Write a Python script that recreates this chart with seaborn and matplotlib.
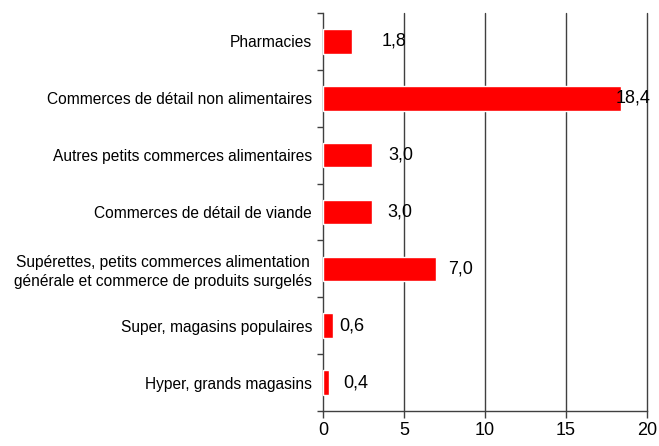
import matplotlib
matplotlib.use("Agg")
import matplotlib.pyplot as plt
import seaborn as sns
import pandas as pd
import numpy as np

categories = [
    "Pharmacies",
    "Commerces de détail non alimentaires",
    "Autres petits commerces alimentaires",
    "Commerces de détail de viande",
    "Supérettes, petits commerces alimentation\ngénérale et commerce de produits surgelés",
    "Super, magasins populaires",
    "Hyper, grands magasins",
]
values = [1.8, 18.4, 3.0, 3.0, 7.0, 0.6, 0.4]
value_labels = ["1,8", "18,4", "3,0", "3,0", "7,0", "0,6", "0,4"]
x_ticks = [0, 5, 10, 15, 20]

# label offsets from bar end, in pixels (style only)
label_offsets_px = [29, -5, 17, 16, 12, 7, 14]

sns.set_style("white")
plt.rcParams['font.family'] = ['Liberation Sans', 'DejaVu Sans']

df = pd.DataFrame({"cat": categories, "val": values})

fig = plt.figure(figsize=(6.59, 4.46), dpi=100)
ax = fig.add_axes([323 / 659, 1 - 411 / 446, (647 - 323) / 659, (411 - 13) / 446])

sns.barplot(data=df, y="cat", x="val", orient="h", color="#FF0000",
            saturation=1, width=0.43, ax=ax, zorder=3)

ax.set_xlim(0, 20)
ax.set_ylim(len(categories) - 0.5, -0.5)
ax.set_xticks(x_ticks)
ax.set_xticklabels([str(t) for t in x_ticks], fontsize=13)
ax.set_xlabel("")
ax.set_ylabel("")

for t in x_ticks[1:]:
    ax.axvline(t, color="#404040", lw=1.0, zorder=1, clip_on=False)

ax.set_yticks(np.arange(len(categories)))
ax.set_yticklabels(categories, fontsize=11.2, linespacing=1.3)
for lab in ax.get_yticklabels():
    lab.set_multialignment("center")
ax.set_yticks(np.arange(-0.5, len(categories), 1.0), minor=True)
ax.tick_params(axis="y", which="major", left=False, length=0, pad=8, labelcolor="black")
ax.tick_params(axis="y", which="minor", left=True, length=4, width=1,
               color="#404040", direction="out")
ax.tick_params(axis="x", which="major", bottom=True, length=5, width=1,
               color="#404040", direction="out", pad=3, labelcolor="black")

for s in ["top", "right"]:
    ax.spines[s].set_visible(False)
for s in ["left", "bottom"]:
    ax.spines[s].set_color("#404040")
    ax.spines[s].set_linewidth(1.0)

for i, (v, lab, off) in enumerate(zip(values, value_labels, label_offsets_px)):
    ax.annotate(lab, xy=(v, i), xytext=(off * 72 / 100, 0), textcoords="offset points",
                ha="left", va="center", fontsize=13, color="black", zorder=4)

fig.savefig("out.png", dpi=100)
